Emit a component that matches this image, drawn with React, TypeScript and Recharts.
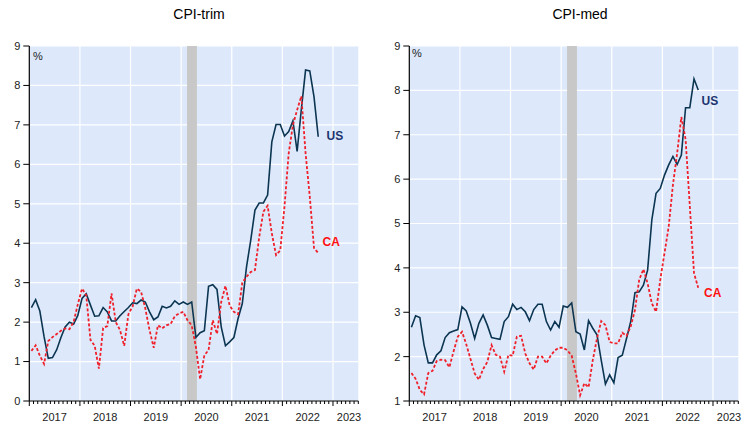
import React from 'react';
import { LineChart, Line, XAxis, YAxis, CartesianGrid, ReferenceArea } from 'recharts';

// Months since Jan 2017 (index 0 = Jan 2017), monthly observations
const years = ['2017', '2018', '2019', '2020', '2021', '2022', '2023'];
const yearStarts = [12, 24, 36, 48, 60, 72];
const yearLabelPos = [6, 18, 30, 42, 54, 66, 75.8];
const xDomain = [0, 78];
const recession = [37.4, 39.75];

const usTrim = [
  2.37, 2.57, 2.28, 1.63, 1.08, 1.10, 1.30, 1.61, 1.88, 2.00, 1.95, 2.17,
  2.60, 2.72, 2.43, 2.15, 2.16, 2.37, 2.26, 2.03, 2.03, 2.16, 2.27, 2.37,
  2.49, 2.47, 2.56, 2.51, 2.26, 2.06, 2.13, 2.40, 2.36, 2.40, 2.54, 2.45,
  2.51, 2.45, 2.51, 1.61, 1.73, 1.78, 2.91, 2.95, 2.83, 1.88, 1.40, 1.50,
  1.61, 2.09, 2.47, 3.40, 4.08, 4.84, 5.02, 5.02, 5.22, 6.57, 7.01, 7.01,
  6.72, 6.83, 7.10, 6.33, 7.40, 8.39, 8.37, 7.71, 6.70,
];
const caTrim = [
  1.27, 1.41, 1.15, 0.94, 1.52, 1.62, 1.70, 1.78, 1.84, 1.82, 2.00, 2.45,
  2.85, 2.68, 1.55, 1.40, 0.82, 1.85, 1.90, 2.73, 2.00, 1.80, 1.40, 2.20,
  2.40, 2.85, 2.77, 2.35, 1.80, 1.35, 1.92, 1.84, 1.92, 1.95, 2.15, 2.22,
  2.26, 2.05, 1.92, 1.37, 0.55, 1.16, 1.29, 2.05, 1.70, 2.51, 2.92, 2.42,
  2.26, 2.20, 3.00, 3.15, 3.27, 3.32, 4.15, 4.80, 4.95, 4.25, 3.70, 3.82,
  4.93, 6.28, 7.00, 7.38, 7.73, 6.28, 5.18, 3.88, 3.75,
];
const usMed = [
  2.66, 2.92, 2.88, 2.26, 1.86, 1.86, 2.04, 2.13, 2.43, 2.54, 2.58, 2.61,
  3.12, 3.03, 2.75, 2.41, 2.75, 2.94, 2.71, 2.43, 2.41, 2.39, 2.79, 2.90,
  3.18, 3.06, 3.11, 3.01, 2.81, 3.06, 3.18, 3.18, 2.79, 2.60, 2.79, 2.66,
  3.14, 3.11, 3.21, 2.56, 2.51, 2.15, 2.81, 2.64, 2.49, 1.92, 1.38, 1.59,
  1.41, 1.98, 2.03, 2.41, 2.79, 3.44, 3.46, 3.61, 3.95, 5.08, 5.68, 5.79,
  6.09, 6.32, 6.51, 6.33, 6.54, 7.61, 7.61, 8.26, 8.01,
];
const caMed = [
  1.63, 1.50, 1.25, 1.15, 1.63, 1.68, 1.90, 1.93, 1.92, 1.76, 2.12, 2.45,
  2.56, 2.28, 1.95, 1.62, 1.48, 1.72, 1.88, 2.26, 2.04, 2.00, 1.66, 2.04,
  2.02, 2.45, 2.47, 2.07, 1.85, 1.71, 2.00, 2.00, 1.85, 2.02, 2.14, 2.20,
  2.20, 2.14, 2.02, 1.62, 1.13, 1.40, 1.31, 1.92, 2.41, 2.80, 2.71, 2.33,
  2.30, 2.30, 2.54, 2.47, 2.68, 3.05, 3.73, 3.97, 3.65, 3.20, 3.01, 3.73,
  4.33, 4.93, 5.87, 6.58, 7.40, 6.90, 5.40, 3.88, 3.55,
];

const trimTicks = [0, 1, 2, 3, 4, 5, 6, 7, 8, 9];
const medTicks = [1, 2, 3, 4, 5, 6, 7, 8, 9];

const US_COLOR = '#0c3552';
const CA_COLOR = '#f0202a';
const BG = '#dde9fb';
const FONT = '"Liberation Sans", Arial, sans-serif';

const build = (us: number[], ca: number[]) =>
  us.map((v, i) => ({ x: i + 0.5, us: v, ca: ca[i] }));

const trimData = build(usTrim, caTrim);
const medData = build(usMed, caMed);

const monthTicks: number[] = [];
for (let m = 0; m <= 78; m++) monthTicks.push(m);
const allXTicks = Array.from(new Set([...monthTicks, ...yearLabelPos])).sort((a, b) => a - b);

const XTick = (props: any) => {
  const { x, y, payload } = props;
  const v = payload.value;
  const parts: any[] = [];
  if (Number.isInteger(v)) {
    const len = v % 12 === 0 ? 5 : 3;
    parts.push(<line key="l" x1={x} x2={x} y1={y} y2={y + len} stroke="#000" strokeWidth={1} />);
  }
  const li = yearLabelPos.indexOf(v);
  if (li >= 0) {
    parts.push(
      <text key="t" x={x} y={y + 20} textAnchor="middle" fontSize={11} fontFamily={FONT} fill="#222">
        {years[li]}
      </text>
    );
  }
  return <g>{parts}</g>;
};

const vGen = (args: any) => {
  const off = args?.offset;
  if (!off) return [];
  return yearStarts.map(
    (m) => off.left + ((m - xDomain[0]) / (xDomain[1] - xDomain[0])) * off.width
  );
};

function Panel({ data, yDomain, yTicks, width, yAxisWidth, rightMargin }: any) {
  return (
    <LineChart
      width={width}
      height={426}
      data={data}
      margin={{ top: 46, right: rightMargin, bottom: 0, left: 0 }}
    >
      <CartesianGrid
        fill={BG}
        stroke="#ffffff"
        strokeWidth={1.2}
        verticalCoordinatesGenerator={vGen}
      />
      <ReferenceArea x1={recession[0]} x2={recession[1]} fill="#c8c8c8" fillOpacity={1} stroke="none" />
      <XAxis
        dataKey="x"
        type="number"
        domain={xDomain}
        ticks={allXTicks}
        interval={0}
        height={25}
        tickSize={0}
        tickMargin={0}
        tickLine={false}
        axisLine={{ stroke: '#000', strokeWidth: 1.2 }}
        tick={<XTick />}
        allowDataOverflow
      />
      <YAxis
        type="number"
        domain={yDomain}
        ticks={yTicks}
        interval={0}
        width={yAxisWidth}
        tickSize={6}
        tickMargin={3}
        tickLine={{ stroke: '#000' }}
        axisLine={{ stroke: '#000', strokeWidth: 1.2 }}
        tick={{ fontSize: 11, fontFamily: FONT, fill: '#222' }}
        allowDataOverflow
      />
      <Line
        dataKey="us"
        type="linear"
        stroke={US_COLOR}
        strokeWidth={1.6}
        dot={false}
        isAnimationActive={false}
      />
      <Line
        dataKey="ca"
        type="linear"
        stroke={CA_COLOR}
        strokeWidth={1.8}
        strokeDasharray="3 2"
        dot={false}
        isAnimationActive={false}
      />
    </LineChart>
  );
}

export default function App() {
  return (
    <div style={{ position: 'absolute', left: 0, top: 0, width: 742, height: 426, background: '#fff', overflow: 'hidden' }}>
      <div style={{ position: 'absolute', left: 0, top: 0 }}>
        <Panel data={trimData} yDomain={[0, 9]} yTicks={trimTicks} width={370} yAxisWidth={29.3} rightMargin={11.7} />
      </div>
      <div style={{ position: 'absolute', left: 370, top: 0 }}>
        <Panel data={medData} yDomain={[1, 9]} yTicks={medTicks} width={372} yAxisWidth={39.3} rightMargin={3.7} />
      </div>
      <svg width={742} height={426} style={{ position: 'absolute', left: 0, top: 0, pointerEvents: 'none' }}>
        <text x={199} y={18.5} textAnchor="middle" fontSize={14} fontFamily={FONT} fill="#000">CPI-trim</text>
        <text x={580} y={18.5} textAnchor="middle" fontSize={14} fontFamily={FONT} fill="#000">CPI-med</text>
        <text x={33} y={60} fontSize={11} fontFamily={FONT} fill="#222">%</text>
        <text x={412} y={57} fontSize={11} fontFamily={FONT} fill="#222">%</text>
        <text x={326.5} y={139.5} fontSize={12} fontWeight="bold" fontFamily={FONT} fill="#1c3470">US</text>
        <text x={322.5} y={246} fontSize={12} fontWeight="bold" fontFamily={FONT} fill="#ff1010">CA</text>
        <text x={701.5} y={105} fontSize={12} fontWeight="bold" fontFamily={FONT} fill="#1c3470">US</text>
        <text x={704} y={297} fontSize={12} fontWeight="bold" fontFamily={FONT} fill="#ff1010">CA</text>
      </svg>
    </div>
  );
}
